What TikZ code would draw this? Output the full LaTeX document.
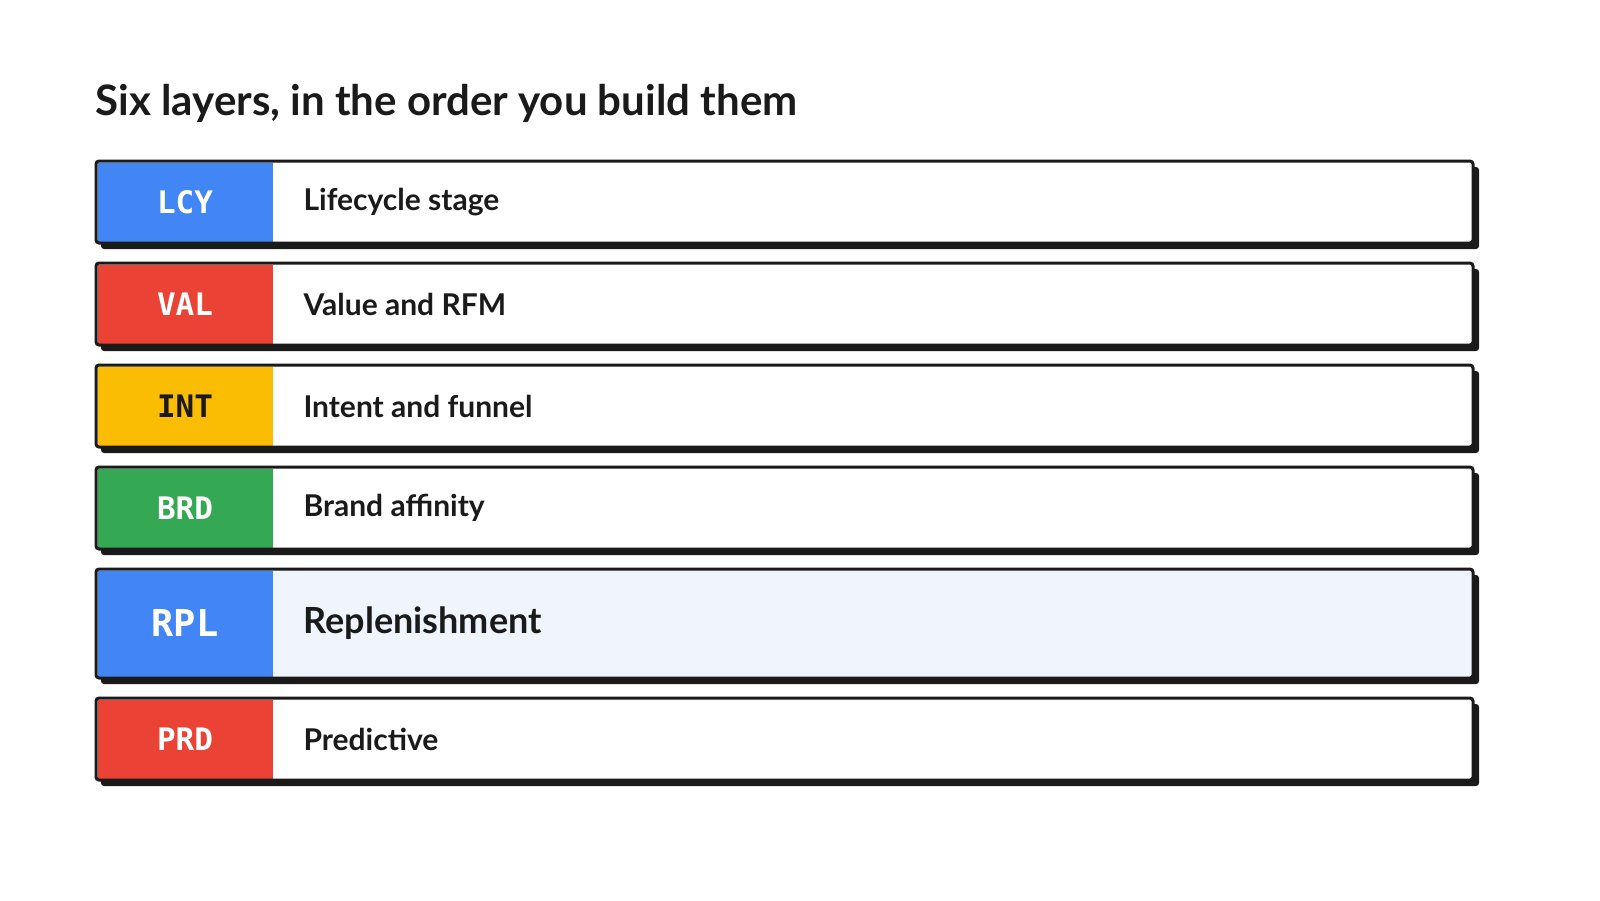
\documentclass[tikz,border=0pt]{standalone}
\usepackage{fontspec}
\setmainfont{Lato}
\setmonofont{DejaVu Sans Mono}
\usetikzlibrary{positioning}
\definecolor{gblue}{HTML}{4285F4}
\definecolor{gred}{HTML}{EA4335}
\definecolor{gyellow}{HTML}{FBBC04}
\definecolor{ggreen}{HTML}{34A853}
\definecolor{ink}{HTML}{1A1A1A}
\definecolor{paleblue}{HTML}{EFF4FD}
\tikzset{
  layerbox/.style={draw=ink,line width=3pt,rounded corners=3pt},
  layershadow/.style={fill=ink,rounded corners=3pt},
  codetext/.style={anchor=center},
  nametext/.style={anchor=west,text=ink}
}
\begin{document}
\begin{tikzpicture}[x=1pt,y=-1pt]
  \useasboundingbox (0,0) rectangle (1600,900);

  \node(title)[anchor=base west,font=\fontsize{42}{48}\selectfont\bfseries,text=ink] at (92,115) {Six layers, in the order you build them};

  % top / bottom / colour / code colour / code / name / fill / size
  \foreach \t/\b/\c/\k/\code/\name/\f/\s [count=\i] in {
      161/243/gblue/white/LCY/Lifecycle stage/white/30,
      263/345/gred/white/VAL/Value and RFM/white/30,
      365/447/gyellow/ink/INT/Intent and funnel/white/30,
      467/549/ggreen/white/BRD/Brand affinity/white/30,
      569/678/gblue/white/RPL/Replenishment/paleblue/36,
      698/780/gred/white/PRD/Predictive/white/30}{
    \pgfmathtruncatemacro\cs{\s+1}
    \fill[layershadow] (101,\t+6) rectangle (1479,\b+6);
    \fill[\f,rounded corners=3pt] (96,\t) rectangle (1473,\b);
    \fill[\c] (97.5,\t+1.5) rectangle (273,\b-1.5);
    \draw[layerbox] (96,\t) rectangle (1473,\b);
    \node(code\i)[codetext,text=\k,font=\fontsize{\cs}{\cs}\selectfont\ttfamily\bfseries] at (185,{(\t+\b)/2}) {\code};
    \node(name\i)[nametext,font=\fontsize{\s}{\s}\selectfont\bfseries] at (300,{(\t+\b)/2}) {\name};
  }
\end{tikzpicture}
\end{document}
